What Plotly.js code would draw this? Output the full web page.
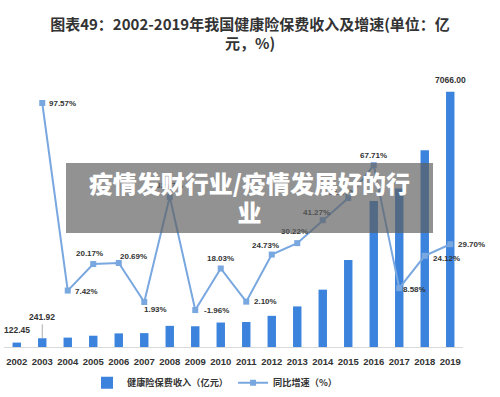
<!DOCTYPE html>
<html><head><meta charset="utf-8">
<script src="https://cdn.plot.ly/plotly-3.0.1.min.js"></script>
<style>
body{margin:0;background:#fff;}
#wrap{position:relative;width:500px;height:397px;}
#chart{width:500px;height:397px;}
#title{position:absolute;left:0;top:14px;width:500px;text-align:center;font-family:"Noto Sans CJK SC",sans-serif;font-weight:bold;font-size:15px;line-height:19px;color:#333;}
#banner{position:absolute;left:66px;top:163px;width:367px;height:70px;background:rgba(95,95,95,0.68);
color:#fff;font-family:"Noto Sans CJK SC",sans-serif;font-weight:900;font-size:24px;line-height:29px;text-align:center;padding-top:5px;box-sizing:border-box;}
</style></head>
<body><div id="wrap"><div id="chart"></div>
<div id="title">图表49：2002-2019年我国健康险保费收入及增速(单位：亿<br>元，%)</div>
<div id="banner">疫情发财行业/疫情发展好的行<br>业</div></div>
<script>
const years = ["2002","2003","2004","2005","2006","2007","2008","2009","2010","2011","2012","2013","2014","2015","2016","2017","2018","2019"];
const premium = [122.45,241.92,259.8,312.3,376.9,384.2,585.5,574.0,677.5,691.7,862.8,1123.5,1587.2,2410.5,4042.5,4389.5,5448.1,7066.00];
const growthYears = ["2003","2004","2005","2006","2007","2008","2009","2010","2011","2012","2013","2014","2015","2016","2017","2018","2019"];
const growth = [97.57,7.42,20.17,20.69,1.93,52.47,-1.96,18.03,2.10,24.73,30.22,41.27,51.87,67.71,8.58,24.12,29.70];
const growthLabels = ["97.57%","7.42%","20.17%","20.69%","1.93%","52.47%","-1.96%","18.03%","2.10%","24.73%","30.22%","41.27%","51.87%","67.71%","8.58%","24.12%","29.70%"];
// label placement: [xanchor, xshift, yshift]
const place = [["left",5,0],["left",5,-1],["center",-4,11],["left",-1,6],["left",-2,-7],["center",0,11],["left",7,0],["center",0,10],["left",6,0],["center",-6,9],["center",-3,12],["center",-6,8],["center",-6,6],["center",0,10],["left",2,-1],["left",6,-3],["left",6,0]];

const fontNum = "Liberation Sans, Arial, Noto Sans CJK SC, sans-serif";
const annotations = [];
growth.forEach((v,i)=>{
  annotations.push({x:years.indexOf(growthYears[i]), y:v, xref:'x', yref:'y2', text:'<b>'+growthLabels[i]+'</b>', showarrow:false,
    xanchor:place[i][0], yanchor:'middle', xshift:place[i][1], yshift:place[i][2], font:{family:fontNum,size:8,color:'#333'}});
});
annotations.push({x:0, y:premium[0], xref:'x', yref:'y', text:'<b>122.45</b>', showarrow:false, yanchor:'bottom', yshift:6, font:{family:fontNum,size:8.5,color:'#333'}});
annotations.push({x:1, y:premium[1], xref:'x', yref:'y', text:'<b>241.92</b>', showarrow:true, arrowhead:0, arrowwidth:0.8, arrowcolor:'#999', ax:0, ay:-14, yanchor:'bottom', font:{family:fontNum,size:8.5,color:'#333'}});
annotations.push({x:years.length-1, y:premium[premium.length-1], xref:'x', yref:'y', text:'<b>7066.00</b>', showarrow:false, yanchor:'bottom', yshift:5, font:{family:fontNum,size:8.5,color:'#333'}});

const data = [
  {type:'bar', x:years, y:premium, name:'健康险保费收入（亿元）', marker:{color:'#3b83dc'}, width:0.33, yaxis:'y'},
  {type:'scatter', mode:'lines+markers', x:growthYears, y:growth, name:'同比增速（%）', yaxis:'y2',
   line:{color:'#79a7df', width:2}, marker:{symbol:'square', size:6, color:'#79a7df'}}
];
const layout = {
  width:500, height:397, paper_bgcolor:'#fff', plot_bgcolor:'#fff',
  margin:{l:4, r:37, t:58, b:50},
  xaxis:{type:'category', range:[-0.5,17.5], showgrid:false, showline:true, linecolor:'#d9d9d9', ticks:'', automargin:false,
    ticklabelstandoff:6, tickfont:{family:fontNum, size:9.5, color:'#333', weight:'bold'}},
  yaxis:{range:[0,8000], visible:false, showgrid:false, zeroline:false},
  yaxis2:{range:[-19.7,119.2], overlaying:'y', visible:false, showgrid:false, zeroline:false},
  showlegend:true,
  legend:{orientation:'h', x:0.43, xref:'container', xanchor:'center', y:0.036, yref:'container', yanchor:'middle',
    font:{family:'Noto Sans CJK SC, sans-serif', size:9.2, color:'#333', weight:'bold'}, itemwidth:30},
  annotations:annotations
};
Plotly.newPlot('chart', data, layout, {displayModeBar:false, staticPlot:true});
</script></body></html>
